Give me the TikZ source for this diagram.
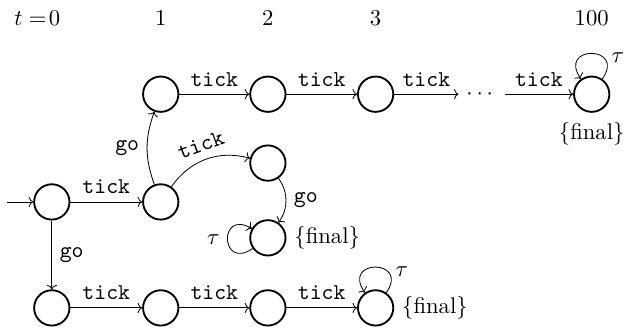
\documentclass[tikz,border=0pt,11pt]{standalone}
\usepackage{amsmath,amssymb}
\usetikzlibrary{arrows.meta, positioning, calc}

\begin{document}
\begin{tikzpicture}[>={To[length=2.2pt, width=5pt]},
  st/.style={draw, circle, line width=0.9pt, minimum size=0.6cm, inner sep=0pt},
  lbl/.style={font=\ttfamily},
  selfloop/.style={->, looseness=5}]

% Canvas
\useasboundingbox (0,0) rectangle (10.65,5.69);

% Time steps
\node[anchor=base east] (h0) at (1.16,5.26) {$t=\!0$};
\node[anchor=base] (h1) at (2.73,5.26) {1};
\node[anchor=base] (h2) at (4.55,5.26) {2};
\node[anchor=base] (h3) at (6.38,5.26) {3};
\node[anchor=base] (h100) at (10.05,5.26) {100};

% States
\node[st] (s0) at (0.88,2.26) {};
\node[st] (s1) at (2.73,2.26) {};
\node[st] (t1) at (2.73,4.09) {};
\node[st] (t2) at (4.55,4.09) {};
\node[st] (t3) at (6.38,4.09) {};
\node (dots) at (8.18,4.09) {$\cdots$};
\node[st, label={[yshift=-1pt]below:$\{\text{final}\}$}] (t100) at (10.05,4.09) {};
\node[st] (m1) at (4.55,2.92) {};
\node[st, label=right:$\{\text{final}\}$] (m2) at (4.55,1.65) {};
\node[st] (b0) at (0.88,0.46) {};
\node[st] (b1) at (2.73,0.46) {};
\node[st] (b2) at (4.55,0.46) {};
\node[st, label=right:$\{\text{final}\}$] (b3) at (6.38,0.46) {};

% Initial arrow
\coordinate (init) at (0.12,2.26);
\draw[->] (init) -- (s0);

% Transitions
\draw[->] (s0) -- node[above, lbl] {tick} (s1);
\draw[->] (s0) -- node[right, lbl] {go} (b0);
\draw[->] (s1) to[bend left=20] node[left, lbl] {go} (t1);
\draw[->] (s1) to[bend left=35] node[above, sloped, lbl] {tick} (m1);
\draw[->] (m1) to[bend left=35] node[right, lbl] {go} (m2);

\draw[->] (t1) -- node[above, lbl] {tick} (t2);
\draw[->] (t2) -- node[above, lbl] {tick} (t3);
\draw[->] (t3) -- node[above, lbl] {tick} (dots);
\draw[->] (dots) -- node[above, lbl] {tick} (t100);

\draw[->] (b0) -- node[above, lbl] {tick} (b1);
\draw[->] (b1) -- node[above, lbl] {tick} (b2);
\draw[->] (b2) -- node[above, lbl] {tick} (b3);

% Self loops
\draw[selfloop] (t100) to[out=55, in=125] node[pos=0.3, right] {$\tau$} (t100);
\draw[selfloop] (b3) to[out=55, in=125] node[pos=0.3, right] {$\tau$} (b3);
\draw[selfloop] (m2) to[out=215, in=150] node[left] {$\tau$} (m2);

\end{tikzpicture}
\end{document}
